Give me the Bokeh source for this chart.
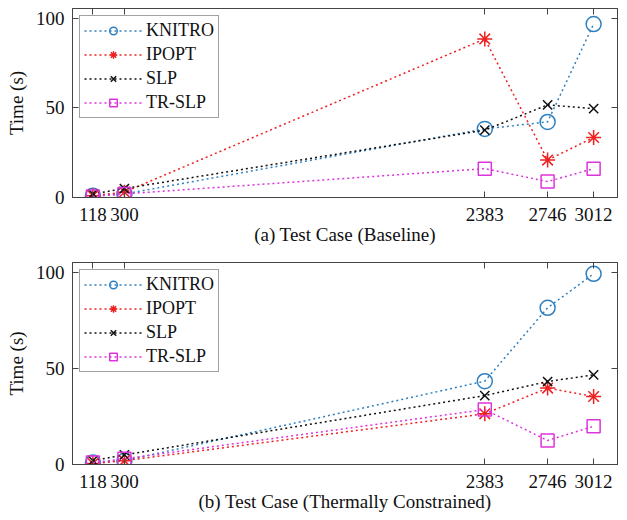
from bokeh.plotting import figure
from bokeh.models import (Range1d, FixedTicker, LinearAxis, Legend, LegendItem)
from bokeh.layouts import column
from bokeh.embed import file_html
from bokeh.resources import INLINE

# ---- data ----
cases = [118, 300, 2383, 2746, 3012]
y_ticks = [0, 50, 100]
series_names = ["KNITRO", "IPOPT", "SLP", "TR-SLP"]

a_knitro = [1.0, 2.0, 38.3, 42.2, 96.8]
a_ipopt = [1.0, 3.0, 88.5, 20.9, 33.5]
a_slp = [2.0, 5.0, 37.6, 51.7, 49.6]
a_trslp = [0.5, 2.0, 16.1, 8.9, 16.1]

b_knitro = [1.0, 2.0, 43.4, 81.6, 99.3]
b_ipopt = [0.5, 2.0, 26.4, 39.8, 35.4]
b_slp = [2.0, 5.0, 35.9, 43.2, 46.7]
b_trslp = [1.0, 3.0, 28.6, 12.5, 19.9]

titles = ["(a) Test Case (Baseline)", "(b) Test Case (Thermally Constrained)"]
y_label = "Time (s)"

FONT = "Liberation Serif"
styles = [
    dict(marker="circle", color="#2f80c0", size=15),
    dict(marker="asterisk", color="#ee2020", size=15),
    dict(marker="x", color="#111111", size=13),
    dict(marker="square", color="#dd33dd", size=13),
]
AX = "#444444"


def make_fig(series, xlabel, height, top, bottom, ymax):
    p = figure(width=619, height=height, output_backend="svg", toolbar_location=None,
               x_range=Range1d(0, 3150), y_range=Range1d(0, ymax),
               min_border_left=72, min_border_right=2,
               min_border_top=top, min_border_bottom=bottom)
    p.xgrid.visible = False
    p.ygrid.visible = False
    p.outline_line_color = AX
    p.background_fill_color = "white"

    xa = p.xaxis[0]
    ya = p.yaxis[0]
    xa.ticker = FixedTicker(ticks=cases)
    xa.major_label_overrides = {c: str(c) for c in cases}
    ya.ticker = FixedTicker(ticks=y_ticks)
    for ax in (xa, ya):
        ax.major_tick_in = 6
        ax.major_tick_out = 0
        ax.minor_tick_line_color = None
        ax.axis_line_color = AX
        ax.major_tick_line_color = AX
        ax.major_label_text_font = FONT
        ax.major_label_text_font_size = "19px"
        ax.major_label_text_color = "#111111"
        ax.axis_label_text_font = FONT
        ax.axis_label_text_font_size = "19px"
        ax.axis_label_text_font_style = "normal"
        ax.axis_label_text_color = "#111111"
    xa.axis_label = xlabel
    xa.major_label_standoff = 10
    xa.axis_label_standoff = 0
    ya.axis_label = y_label
    ya.major_label_standoff = 8
    ya.axis_label_standoff = 6

    top_ax = LinearAxis(ticker=FixedTicker(ticks=cases))
    top_ax.major_label_overrides = {c: "" for c in cases}
    right_ax = LinearAxis(ticker=FixedTicker(ticks=y_ticks))
    right_ax.major_label_overrides = {t: "" for t in y_ticks}
    for ax in (top_ax, right_ax):
        ax.major_tick_in = 6
        ax.major_tick_out = 0
        ax.minor_tick_line_color = None
        ax.axis_line_color = AX
        ax.major_tick_line_color = AX
        ax.major_label_standoff = 0
    p.add_layout(top_ax, "above")
    p.add_layout(right_ax, "right")

    items = []
    for name, ys, st in zip(series_names, series, styles):
        ln = p.line(cases, ys, line_color=st["color"], line_dash="2 3", line_width=1.5)
        if st["marker"] in ("circle", "square"):
            sc = p.scatter(cases, ys, marker=st["marker"], size=st["size"],
                           line_color=st["color"], fill_color=None, line_width=1.5)
        else:
            sc = p.scatter(cases, ys, marker=st["marker"], size=st["size"],
                           line_color=st["color"], line_width=1.5)
        items.append(LegendItem(label=name, renderers=[ln, sc]))

    leg = Legend(items=items, location="top_left")
    leg.label_text_font = FONT
    leg.label_text_font_size = "18px"
    leg.label_text_color = "#111111"
    leg.glyph_width = 58
    leg.glyph_height = 19
    leg.spacing = 3
    leg.padding = 4
    leg.margin = 7
    leg.label_standoff = 4
    leg.border_line_color = AX
    leg.border_line_width = 1
    p.add_layout(leg)
    return p


p1 = make_fig([a_knitro, a_ipopt, a_slp, a_trslp], titles[0], 260, 8, 63, 105.5)
p2 = make_fig([b_knitro, b_ipopt, b_slp, b_trslp], titles[1], 256, 2, 52, 105.2)

layout = column(p1, p2, spacing=0)
open("out.html", "w").write(file_html(layout, INLINE))
